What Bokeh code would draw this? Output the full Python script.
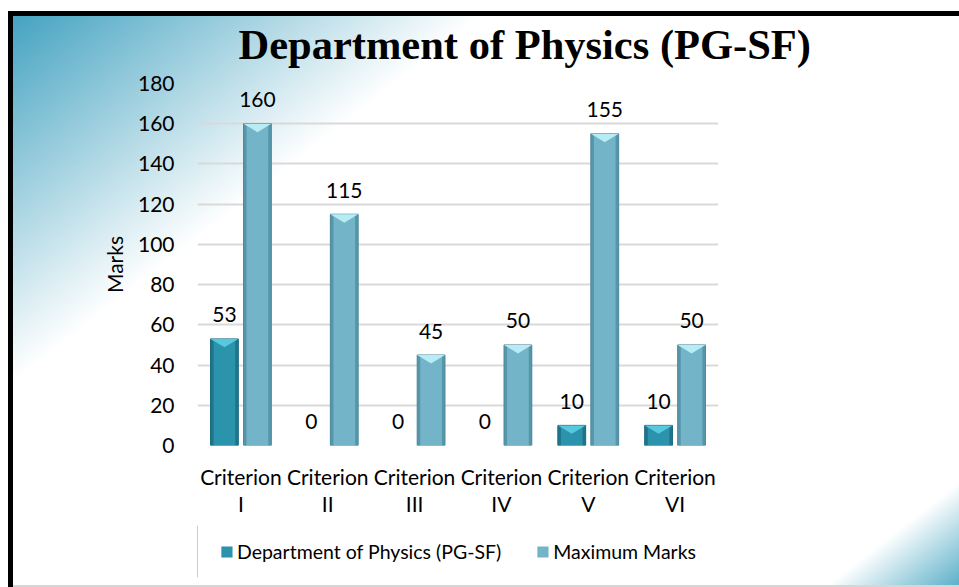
from bokeh.plotting import figure
from bokeh.layouts import column
from bokeh.models import ColumnDataSource, Range1d, FixedTicker, Legend, LegendItem, Title
from bokeh.core.properties import value
from bokeh.embed import file_html
from bokeh.resources import INLINE

# ---------------- data ----------------
categories = ["Criterion\nI", "Criterion\nII", "Criterion\nIII",
              "Criterion\nIV", "Criterion\nV", "Criterion\nVI"]
dept_marks = [53, 0, 0, 0, 10, 10]
max_marks = [160, 115, 45, 50, 155, 50]
y_ticks = [0, 20, 40, 60, 80, 100, 120, 140, 160, 180]
series_names = ["Department of Physics (PG-SF)", "Maximum Marks"]
chart_title = "Department of Physics (PG-SF)"
y_label = "Marks"

# ---------------- style ----------------
FONT = "Lato"
TXT = "21px"
BAR_W = 0.32
OFFS = 0.19
EDGE = 0.035
BEVEL = 4.2
styles_series = [
    dict(body="#2b93ac", edge="#1c6d83", bevel="#56c8e0", line="#1f6a7e"),
    dict(body="#74b4c8", edge="#4f8ea3", bevel="#b8ecf5", line="#4d8799"),
]

n = len(categories)
centers = [i + 0.5 for i in range(n)]

p = figure(frame_width=521, frame_height=362, output_backend="svg", toolbar_location=None,
           x_range=Range1d(0, n), y_range=Range1d(0, y_ticks[-1]),
           min_border_left=197, min_border_right=241,
           min_border_top=83, min_border_bottom=80)

p.border_fill_color = None
p.background_fill_color = None
p.outline_line_color = None

p.title = Title(text=chart_title, align="left", offset=41,
                text_font="Liberation Serif", text_font_size="42.5px",
                text_font_style="bold", text_color="black", standoff=32)

# axes
p.xaxis.ticker = FixedTicker(ticks=centers)
p.xaxis.major_label_overrides = {c: lab for c, lab in zip(centers, categories)}
p.yaxis.ticker = FixedTicker(ticks=y_ticks)
for ax in (p.xaxis[0], p.yaxis[0]):
    ax.axis_line_color = None
    ax.major_tick_line_color = None
    ax.minor_tick_line_color = None
    ax.major_label_text_font = FONT
    ax.major_label_text_font_size = TXT
    ax.major_label_text_color = "black"
p.xaxis.major_label_standoff = 12
p.xaxis.major_label_text_line_height = 1.1
p.yaxis.major_label_standoff = 17
p.yaxis.axis_label = y_label
p.yaxis.axis_label_text_font = FONT
p.yaxis.axis_label_text_font_size = TXT
p.yaxis.axis_label_text_font_style = "normal"
p.yaxis.axis_label_text_color = "black"
p.yaxis.axis_label_standoff = 8

p.xgrid.grid_line_color = None
p.ygrid.grid_line_color = "#d9d9d9"
p.ygrid.grid_line_width = 2

# legend strip (separate small figure under the chart)
leg = figure(width=959, height=62, output_backend="svg", toolbar_location=None,
             x_range=Range1d(0, 1), y_range=Range1d(0, 1),
             x_axis_location=None, y_axis_location=None,
             min_border_left=197, min_border_right=241,
             min_border_top=0, min_border_bottom=10)
leg.border_fill_color = None
leg.background_fill_color = None
leg.outline_line_color = None
leg.xgrid.grid_line_color = None
leg.ygrid.grid_line_color = None

# bars
legend_items = []
for k, (vals, st) in enumerate(zip([dept_marks, max_marks], styles_series)):
    off = -OFFS if k == 0 else OFFS
    xs = [c + off for c in centers]
    src = ColumnDataSource(dict(x=xs, top=vals, lab=[str(v) for v in vals],
                                la=[1.0 if v > 0 else 0.0 for v in vals]))
    p.vbar(x="x", top="top", width=BAR_W, bottom=0, source=src,
           fill_color=st["body"], line_color=st["line"], line_width=1,
           line_alpha="la")
    # darker side edges
    p.vbar(x=[x - BAR_W / 2 + EDGE / 2 for x in xs], top=vals, width=EDGE,
           fill_color=st["edge"], line_color=None, fill_alpha=0.8)
    p.vbar(x=[x + BAR_W / 2 - EDGE / 2 for x in xs], top=vals, width=EDGE,
           fill_color=st["edge"], line_color=None, fill_alpha=0.8)
    # light top bevel
    bx, by = [], []
    for x, v in zip(xs, vals):
        if v > 0:
            bx.append([x - BAR_W / 2, x + BAR_W / 2, x])
            by.append([v, v, v - min(BEVEL, v)])
    if bx:
        p.patches(bx, by, fill_color=st["bevel"], line_color=None)
    # data labels
    p.text(x="x", y="top", text="lab", source=src, text_align="center",
           text_baseline="middle", y_offset=-24, text_font=value(FONT),
           text_font_size=TXT, text_color="black")
    # legend swatch renderer (same fill, its single bar lies outside the strip's view)
    r = leg.vbar(x=[-5.0], top=[vals[0]], width=BAR_W, fill_color=st["body"],
                 line_color=None)
    legend_items.append(LegendItem(label=series_names[k], renderers=[r]))

legend = Legend(items=legend_items, orientation="horizontal", location="center",
                label_text_font=FONT, label_text_font_size="19.5px", label_text_color="black",
                glyph_width=14, glyph_height=14, label_standoff=4, spacing=34,
                padding=4, margin=0, border_line_color=None,
                background_fill_alpha=0)
leg.add_layout(legend, "center")

layout = column(p, leg, spacing=0)
layout.styles = {
    "background": (
        "linear-gradient(#000,#000) 8px 11px / 5px calc(100% - 11px) no-repeat, "
        "linear-gradient(#000,#000) 8px 11px / calc(100% - 8px) 5px no-repeat, "
        "linear-gradient(#d6d6d6,#d6d6d6) 13px 100% / 100% 2px no-repeat, "
        "linear-gradient(142deg, #45a3c1 0%, #ffffff 28%, #ffffff 92%, #5aafc8 100%) "
        "13px 16px / calc(100% - 13px) calc(100% - 16px) no-repeat, #ffffff"
    )
}

open("out.html", "w").write(file_html(layout, INLINE))
